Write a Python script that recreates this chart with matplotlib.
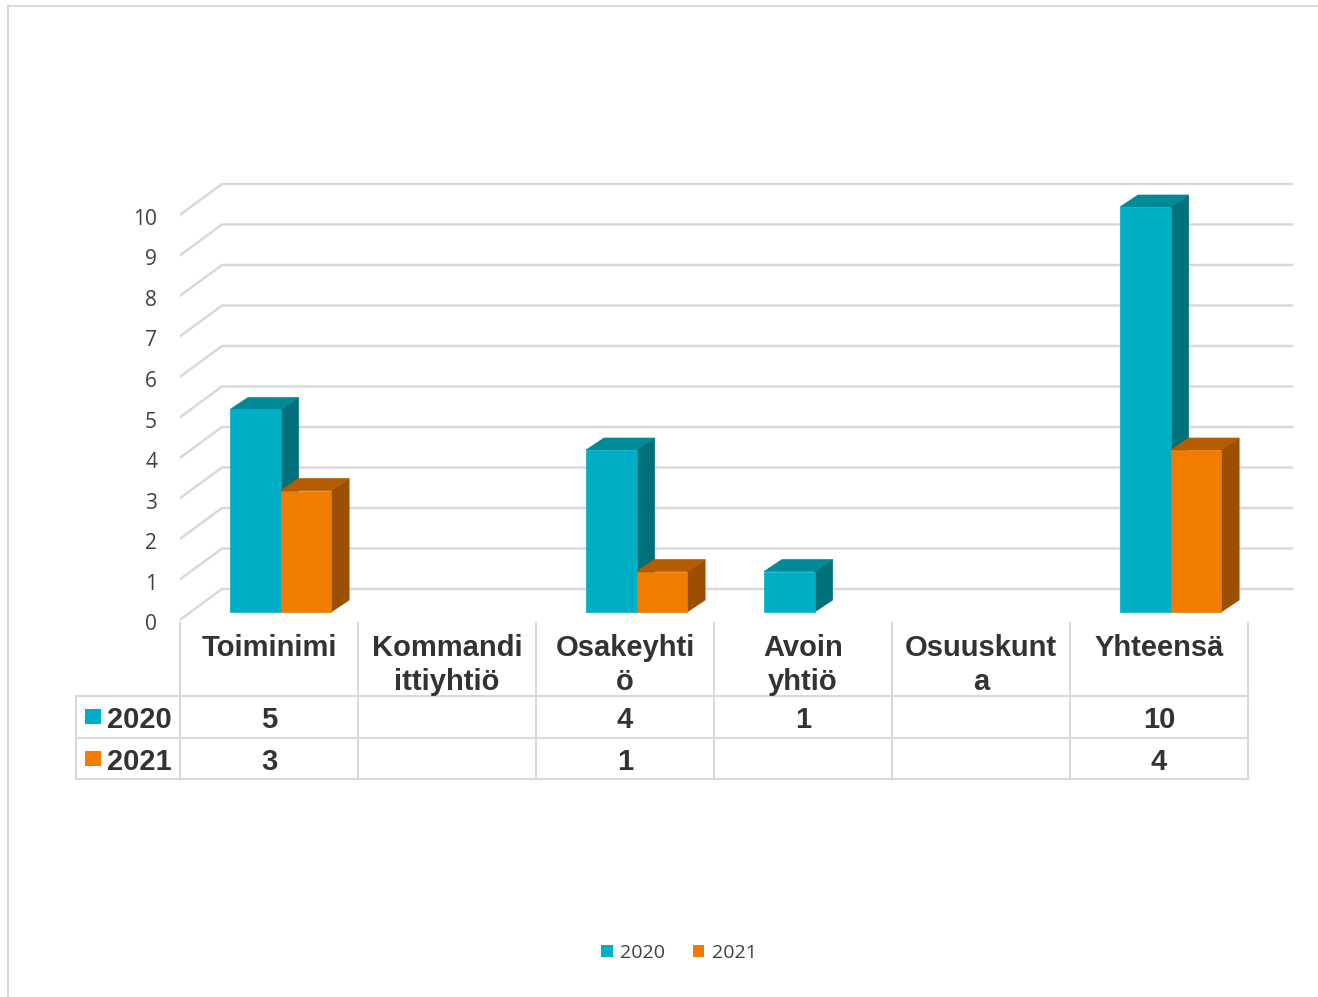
import matplotlib.pyplot as plt
from matplotlib.patches import Polygon, Rectangle, Patch
from matplotlib.lines import Line2D

# Data
categories = ["Toiminimi", "Kommandi\nittiyhtiö", "Osakeyhti\nö", "Avoin\nyhtiö", "Osuuskunt\na", "Yhteensä"]
series_names = ["2020", "2021"]
values_2020 = [5, None, 4, 1, None, 10]
values_2021 = [3, None, 1, None, None, 4]
y_ticks = list(range(0, 11))

# front / top / side face colours per series
face_colors = [("#00AFC6", "#008A97", "#00707B"),
               ("#F07D00", "#B65C00", "#9C4F00")]
grid_color = "#D9D9D9"
text_color = "#333333"

W, H = 1318, 997
fig = plt.figure(figsize=(W / 100, H / 100), dpi=100)

# light frame around the chart (top and left edges are visible)
fig.add_artist(Line2D([8 / W, 1], [1 - 6 / H, 1 - 6 / H], color=grid_color, lw=1.5))
fig.add_artist(Line2D([8 / W, 8 / W], [0, 1 - 6 / H], color=grid_color, lw=1.5))

# main plot: x = category index, y = value (front plane of the bars)
ax = fig.add_axes([180 / W, 1 - 640 / H, 1120 / W, 490 / H])
ax.set_xlim(-0.5, 5.792)
ax.set_ylim(-0.691, 11.407)
ax.axis("off")

# 3d offsets (in data units)
front_x, back_x, wall_end = -0.517, -0.264, 5.753
front_dy, back_dy = -0.247, 0.568
bar_w, bar_off = 0.284, -0.219
ddx, ddy = 0.101, 0.296

# back wall gridlines with the diagonal side wall
for v in y_ticks:
    ax.plot([front_x, back_x, wall_end], [v + front_dy, v + back_dy, v + back_dy],
            color=grid_color, lw=1.8, solid_capstyle="butt", zorder=1)
    ax.text(-0.629, v + front_dy, str(v), ha="right", va="center_baseline", fontsize=15,
            color="#404040", family="Open Sans")

# bars
all_values = [values_2020, values_2021]
for i in range(len(categories)):
    for s, vals in enumerate(all_values):
        v = vals[i]
        if v is None:
            continue
        front_c, top_c, side_c = face_colors[s]
        x0 = i + bar_off + s * bar_w
        x1 = x0 + bar_w
        front = Polygon([(x0, 0), (x1, 0), (x1, v), (x0, v)])
        top = Polygon([(x0, v), (x1, v), (x1 + ddx, v + ddy), (x0 + ddx, v + ddy)])
        side = Polygon([(x1, 0), (x1 + ddx, ddy), (x1 + ddx, v + ddy), (x1, v)])
        for poly, c in [(side, side_c), (top, top_c), (front, front_c)]:
            poly.set_facecolor(c)
            poly.set_edgecolor(c)
            poly.set_linewidth(0.5)
            poly.set_zorder(3)
            ax.add_patch(poly)

# data table below the plot (x shared with the plot, y in pixel rows)
axt = fig.add_axes([180 / W, 1 - 790 / H, 1120 / W, 180 / H])
axt.set_xlim(ax.get_xlim())
axt.set_ylim(790, 610)
axt.axis("off")

x_left = -1.084
row_lines = [696, 738, 779]
for yl in row_lines:
    axt.plot([x_left, 5.5], [yl, yl], color=grid_color, lw=1.5, clip_on=False)
for k in range(len(categories) + 1):
    axt.plot([k - 0.5, k - 0.5], [623, 779], color=grid_color, lw=1.5, clip_on=False)
axt.plot([x_left, x_left], [696, 779], color=grid_color, lw=1.5, clip_on=False)

for i, cat in enumerate(categories):
    axt.text(i, 634, cat, ha="center", va="top", fontsize=21, fontweight="bold",
             family="Liberation Sans", color=text_color, linespacing=1.25, clip_on=False)

baselines = [728, 770]
square_tops = [709, 751]
for s, vals in enumerate(all_values):
    axt.add_patch(Rectangle((-1.034, square_tops[s]), 0.09, 15, facecolor=face_colors[s][0],
                            edgecolor="none", clip_on=False))
    axt.text(-0.910, baselines[s], series_names[s], ha="left", va="baseline", fontsize=21,
             fontweight="bold", family="Liberation Sans", color=text_color, clip_on=False)
    for i, v in enumerate(vals):
        if v is None:
            continue
        axt.text(i, baselines[s], str(v), ha="center", va="baseline", fontsize=21,
                 fontweight="bold", family="Liberation Sans", color=text_color, clip_on=False)

# legend at the bottom
handles = [Patch(facecolor=face_colors[s][0], edgecolor="none") for s in range(2)]
fig.legend(handles, series_names, loc="center", bbox_to_anchor=(679 / W, 1 - 953 / H),
           ncol=2, frameon=False, prop={"family": "Open Sans", "size": 14},
           labelcolor="#404040", handlelength=0.6, handleheight=0.6,
           handletextpad=0.4, columnspacing=1.4)

fig.savefig("out.png", dpi=100)
